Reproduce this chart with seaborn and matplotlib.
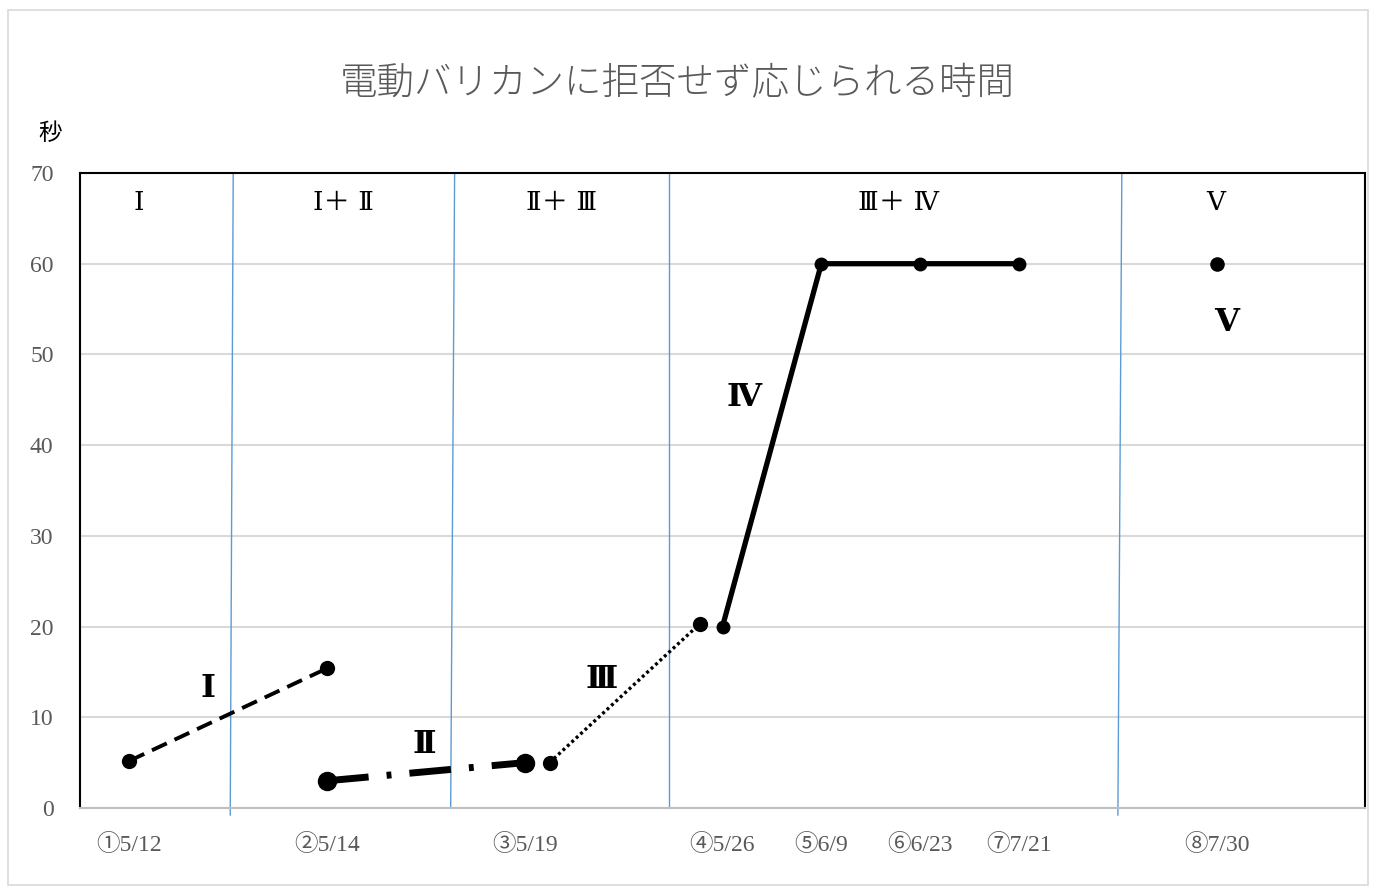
import matplotlib
matplotlib.use("Agg")
import matplotlib.pyplot as plt
from matplotlib.patches import Rectangle
import seaborn as sns

# ---- data ----
date_labels = ['①5/12', '②5/14', '③5/19', '④5/26', '⑤6/9', '⑥6/23', '⑦7/21', '⑧7/30']
date_pos = [0, 2, 4, 6, 7, 8, 9, 11]

s1_x = [0, 2]
s1_y = [5.2, 15.4]
s2_x = [2, 4]
s2_y = [3, 5]
s3_x = [4.25, 5.77]
s3_y = [5, 20.3]
s4_x = [6, 7, 8, 9]
s4_y = [20, 60, 60, 60]
s5_x = [11]
s5_y = [60]

# stage dividers (top x, bottom x) and stage headers
dividers = [(1.05, 1.02), (3.29, 3.25), (5.46, 5.46), (10.04, 10.0)]
stage_names = ['Ⅰ', 'Ⅰ＋ Ⅱ', 'Ⅱ＋ Ⅲ', 'Ⅲ＋ Ⅳ', 'Ⅴ']
stage_pos = [0.09, 2.17, 4.37, 7.78, 10.99]

series_names = ['Ⅰ', 'Ⅱ', 'Ⅲ', 'Ⅳ', 'Ⅴ']
series_lab_x = [0.79, 2.98, 4.78, 6.22, 11.1]
series_lab_y = [13.2, 7.0, 14.2, 45.2, 53.5]

sns.set_theme(style="white")
serif = ['Liberation Serif', 'DejaVu Serif', 'Noto Sans CJK JP']
roman = ['DejaVu Serif', 'Noto Sans CJK JP']
circled = ['Noto Sans CJK JP', 'Liberation Serif']
cjk = ['Noto Sans CJK JP', 'DejaVu Sans']
plt.rcParams['font.family'] = serif

fig = plt.figure(figsize=(13.73, 8.89), dpi=100)
fig.patches.append(Rectangle((8 / 1373, 4 / 889), 1360 / 1373, 875 / 889,
                             transform=fig.transFigure, fill=False,
                             edgecolor='#d9d9d9', lw=1.2))
ax = fig.add_axes([80 / 1373, 1 - 808 / 889, 1285 / 1373, 635 / 889])

ax.set_xlim(-0.5, 12.5)
ax.set_ylim(0, 70)
ax.set_yticks(range(0, 71, 10))
ax.yaxis.grid(True, color='#d9d9d9', lw=1.5)
ax.set_axisbelow(True)
for side in ['top', 'left', 'right']:
    ax.spines[side].set_color('black')
    ax.spines[side].set_linewidth(1.5)
ax.spines['bottom'].set_color('#bfbfbf')
ax.spines['bottom'].set_linewidth(1.5)

ax.set_xticks(date_pos)
ax.set_xticklabels(date_labels, fontsize=17, color='#595959')
ax.set_yticklabels([str(v) for v in range(0, 71, 10)], family=serif, fontsize=17,
                   color='#595959')
ax.tick_params(axis='both', length=0, colors='#595959')
ax.tick_params(axis='x', pad=19)
ax.tick_params(axis='y', pad=19)

# dividers
for top, bot in dividers:
    ax.plot([top, bot], [70, -0.8 if bot in (1.02, 10.0) else 0], color='#5b9bd5',
            lw=1, clip_on=False, zorder=1)

# series
sns.lineplot(x=s1_x, y=s1_y, ax=ax, color='black', lw=2.8, linestyle=(0, (4.2, 2.2)),
             marker='o', markersize=11, markeredgewidth=0, zorder=4)
sns.lineplot(x=s2_x, y=s2_y, ax=ax, color='black', lw=5, linestyle=(0, (6, 2.6, 0.7, 2.6)),
             marker='o', markersize=14, markeredgewidth=0, zorder=4)
sns.lineplot(x=s3_x, y=s3_y, ax=ax, color='black', lw=2.4, linestyle=(0, (0.9, 0.9)),
             marker='o', markersize=11, markeredgewidth=0, zorder=4)
sns.lineplot(x=s4_x, y=s4_y, ax=ax, color='black', lw=3.8,
             marker='o', markersize=10, markeredgewidth=0, zorder=4)
sns.scatterplot(x=s5_x, y=s5_y, ax=ax, color='black', s=110, linewidth=0, zorder=4)

for name, x in zip(stage_names, stage_pos):
    ax.text(x, 66.8, name, ha='center', va='center', fontsize=19, color='black',
            family=roman)
for name, x, y in zip(series_names, series_lab_x, series_lab_y):
    ax.text(x, y, name, ha='center', va='center', fontsize=23, fontweight='bold',
            color='black', family=roman)

fig.text(677 / 1373, 1 - 83 / 889, '電動バリカンに拒否せず応じられる時間', ha='center',
         va='center', fontsize=27, color='#595959', family=cjk, fontweight='light')
fig.text(50 / 1373, 1 - 133 / 889, '秒', ha='center', va='center', fontsize=17,
         color='black', family=cjk)

for lab in ax.get_xticklabels():
    lab.set_family(['Liberation Serif', 'Noto Sans CJK JP'])

fig.savefig('out.png', dpi=100)
